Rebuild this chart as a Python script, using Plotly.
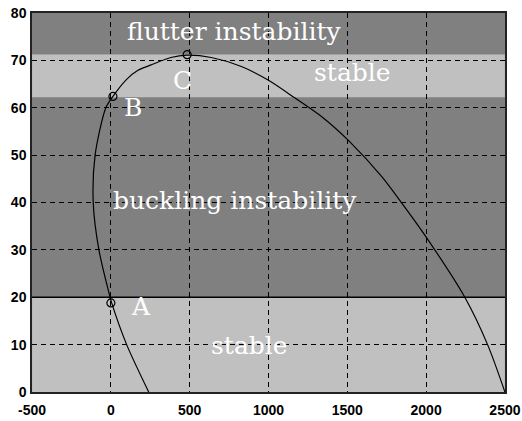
import plotly.graph_objects as go

# Stability boundary curve (x: parameter, y: load)
curve_x = [240, 100, 5, -5, -76, -112, -100, -32, 13, 100, 172, 274, 380, 484,
           637, 828, 1000, 1166, 1338, 1510, 1720, 1834, 1994, 2242, 2390, 2500]
curve_y = [0, 10, 18.8, 20, 30, 40, 50, 60, 62.4, 66, 67.9, 69.3, 70.6, 71.1,
           70.6, 68.7, 65.8, 62.1, 58.1, 53.0, 45.4, 40.4, 33, 20.2, 10, 0]

# Marked points A, B, C
pt_names = ["A", "B", "C"]
pt_x = [0, 13, 484]
pt_y = [18.8, 62.4, 71.2]
pt_label_x = [191, 140, 452]
pt_label_y = [18.1, 60, 65.8]

# Horizontal regions
band_edges = [0, 20, 62.2, 71.3, 80]
band_colors = ["#c0c0c0", "#808080", "#c0c0c0", "#808080"]

# Region labels
region_text = ["stable", "buckling instability", "stable", "flutter instability"]
region_x = [879, 790, 1535, 783]
region_y = [9.9, 40.5, 67.5, 76]

x_ticks = [-500, 0, 500, 1000, 1500, 2000, 2500]
y_ticks = [0, 10, 20, 30, 40, 50, 60, 70, 80]
x_range = [-500, 2500]
y_range = [0, 80]

fig = go.Figure()

for i, col in enumerate(band_colors):
    fig.add_shape(type="rect", xref="x", yref="y",
                  x0=x_range[0], x1=x_range[1], y0=band_edges[i], y1=band_edges[i + 1],
                  fillcolor=col, line_width=0, layer="below")

# solid boundary between stable and buckling regions
fig.add_shape(type="line", xref="x", yref="y",
              x0=x_range[0], x1=x_range[1], y0=band_edges[1], y1=band_edges[1],
              line=dict(color="black", width=1.5), layer="above")

fig.add_trace(go.Scatter(x=curve_x, y=curve_y, mode="lines",
                         line=dict(color="black", width=1.2, shape="spline", smoothing=0.8),
                         hoverinfo="skip"))
fig.add_trace(go.Scatter(x=pt_x, y=pt_y, mode="markers",
                         marker=dict(symbol="circle-open", size=8, color="black",
                                     line=dict(width=1.2, color="black")),
                         hoverinfo="skip"))

serif = "DejaVu Serif, serif"
for t, x, y in zip(region_text, region_x, region_y):
    fig.add_annotation(x=x, y=y, text=t, showarrow=False,
                       font=dict(family=serif, size=25, color="white"))
for t, x, y in zip(pt_names, pt_label_x, pt_label_y):
    fig.add_annotation(x=x, y=y, text=t, showarrow=False,
                       font=dict(family=serif, size=25, color="white"))

tick_font = dict(family="Liberation Sans, Arial, sans-serif",
                 size=14, color="black", weight="bold")

eps = 0.5
fig.update_xaxes(range=[x_range[0] - eps, x_range[1] + eps], tickvals=x_ticks,
                 ticktext=[str(v) for v in x_ticks], automargin=False,
                 showgrid=True, gridcolor="black", griddash="5px,4px", gridwidth=1.3,
                 zeroline=False, showline=True, linecolor="#222", linewidth=1.5, mirror=True,
                 ticks="", tickfont=tick_font, ticklabelstandoff=4)
fig.update_yaxes(range=y_range, tickvals=y_ticks, ticktext=[str(v) for v in y_ticks],
                 automargin=False,
                 showgrid=True, gridcolor="black", griddash="5px,4px", gridwidth=1.3,
                 zeroline=False, showline=True, linecolor="#222", linewidth=1.5, mirror=True,
                 ticks="", tickfont=tick_font, ticklabelstandoff=1)

fig.update_layout(width=522, height=421, showlegend=False,
                  margin=dict(l=32, r=17, t=13, b=29),
                  paper_bgcolor="white", plot_bgcolor="#808080")

fig.write_html("out.html")
